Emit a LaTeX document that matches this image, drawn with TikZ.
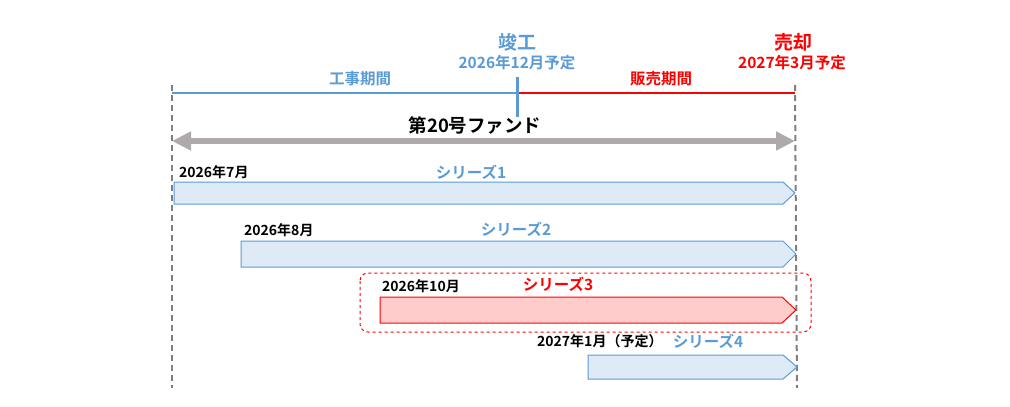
\documentclass[tikz,border=0pt]{standalone}
\usepackage{fontspec}
\setmainfont{Noto Sans CJK JP}[BoldFont={Noto Sans CJK JP Bold}]
\usepackage{xcolor}
\usetikzlibrary{arrows.meta,positioning}
\definecolor{kouji}{RGB}{91,155,213}
\definecolor{barfill}{RGB}{222,235,247}
\definecolor{hanbai}{RGB}{255,0,0}
\definecolor{redfill}{RGB}{255,204,204}
\definecolor{fundgray}{RGB}{174,170,170}
\definecolor{guide}{RGB}{127,127,127}

\begin{document}
\begin{tikzpicture}[x=1pt,y=-1pt,font=\bfseries]
            \tikzstyle{guide}=[draw=guide,line width=2pt,dash pattern=on 6pt off 4pt]
            \tikzstyle{bluebar}=[draw=kouji,fill=barfill,line width=1pt]
            \tikzstyle{redbar}=[draw=hanbai,fill=redfill,line width=1pt]
            \tikzstyle{date}=[anchor=west,inner sep=0pt,font=\fontsize{14}{14}\selectfont\bfseries]
            \tikzstyle{series}=[inner sep=0pt,font=\fontsize{15.5}{15.5}\selectfont\bfseries]
            \tikzstyle{sched}=[inner sep=0pt,font=\fontsize{15.5}{15.5}\selectfont\bfseries]
            \useasboundingbox (0,0) rectangle (1010,407);
            % guides
            \coordinate (gtopL) at (172,85);
            \coordinate (gbotL) at (172,388);
            \coordinate (gtopR) at (795,85);
            \coordinate (gbotR) at (797,388);
            \coordinate (kanko) at (517,93);
            \coordinate (kankoT) at (517,77);
            \coordinate (kankoB) at (517,117);
            \draw[guide] (gtopL) -- (gbotL);
            \draw[guide] (gtopR) -- (gbotR);
            % periods
            \draw[kouji,line width=1.5pt] (gtopL |- kanko) -- (kanko);
            \draw[hanbai,line width=2pt] (kanko) -- (gtopR |- kanko);
            \draw[kouji,line width=3pt] (kankoT) -- (kankoB);
            \node[kouji,inner sep=0pt,font=\fontsize{19}{19}\selectfont\bfseries] (kankoLbl) at (517,42) {竣工};
            \node[kouji,sched] (kankoDate) at (517,63) {2026年12月予定};
            \node[hanbai,inner sep=0pt,font=\fontsize{19}{19}\selectfont\bfseries] (baikyaku) at (793,42) {売却};
            \node[hanbai,sched] (baikyakuDate) at (792,63) {2027年3月予定};
            \node[kouji,sched] (koujiKikan) at (360,79) {工事期間};
            \node[hanbai,sched] (hanbaiKikan) at (661,79) {販売期間};
            % fund
            \coordinate (fundL) at (172,141);
            \coordinate (fundR) at (795,141);
            \draw[fundgray,line width=6pt,{Triangle[length=19pt,width=18pt]}-{Triangle[length=19pt,width=18pt]}] (fundL) -- (fundR);
            \node[inner sep=0pt,font=\fontsize{18.5}{18.5}\selectfont\bfseries] (fund) at (475,125) {第20号ファンド};
            % series
            \draw[red,dashed,line width=1pt,rounded corners=8pt] (360,273) rectangle (811,332);
            \draw[bluebar] (174,182) -- (783,182) -- (795,193) -- (783,204) -- (174,204) -- cycle;
            \draw[bluebar] (241,241) -- (783,241) -- (796,254) -- (783,267) -- (241,267) -- cycle;
            \draw[redbar] (380,297) -- (782,297) -- (796,310) -- (782,323) -- (380,323) -- cycle;
            \draw[bluebar] (588,355) -- (783,355) -- (797,367) -- (783,379) -- (588,379) -- cycle;
            \node[date] (d1) at (179,172) {2026年7月};
            \node[date] (d2) at (244,230) {2026年8月};
            \node[date] (d3) at (382,286) {2026年10月};
            \node[date] (d4) at (537,341) {2027年1月（予定）};
            \node[series,kouji] (s1) at (471,172) {シリーズ1};
            \node[series,kouji] (s2) at (516,229) {シリーズ2};
            \node[series,hanbai] (s3) at (558,284) {シリーズ3};
            \node[series,kouji] (s4) at (708,341) {シリーズ4};
          \end{tikzpicture}
\end{document}
